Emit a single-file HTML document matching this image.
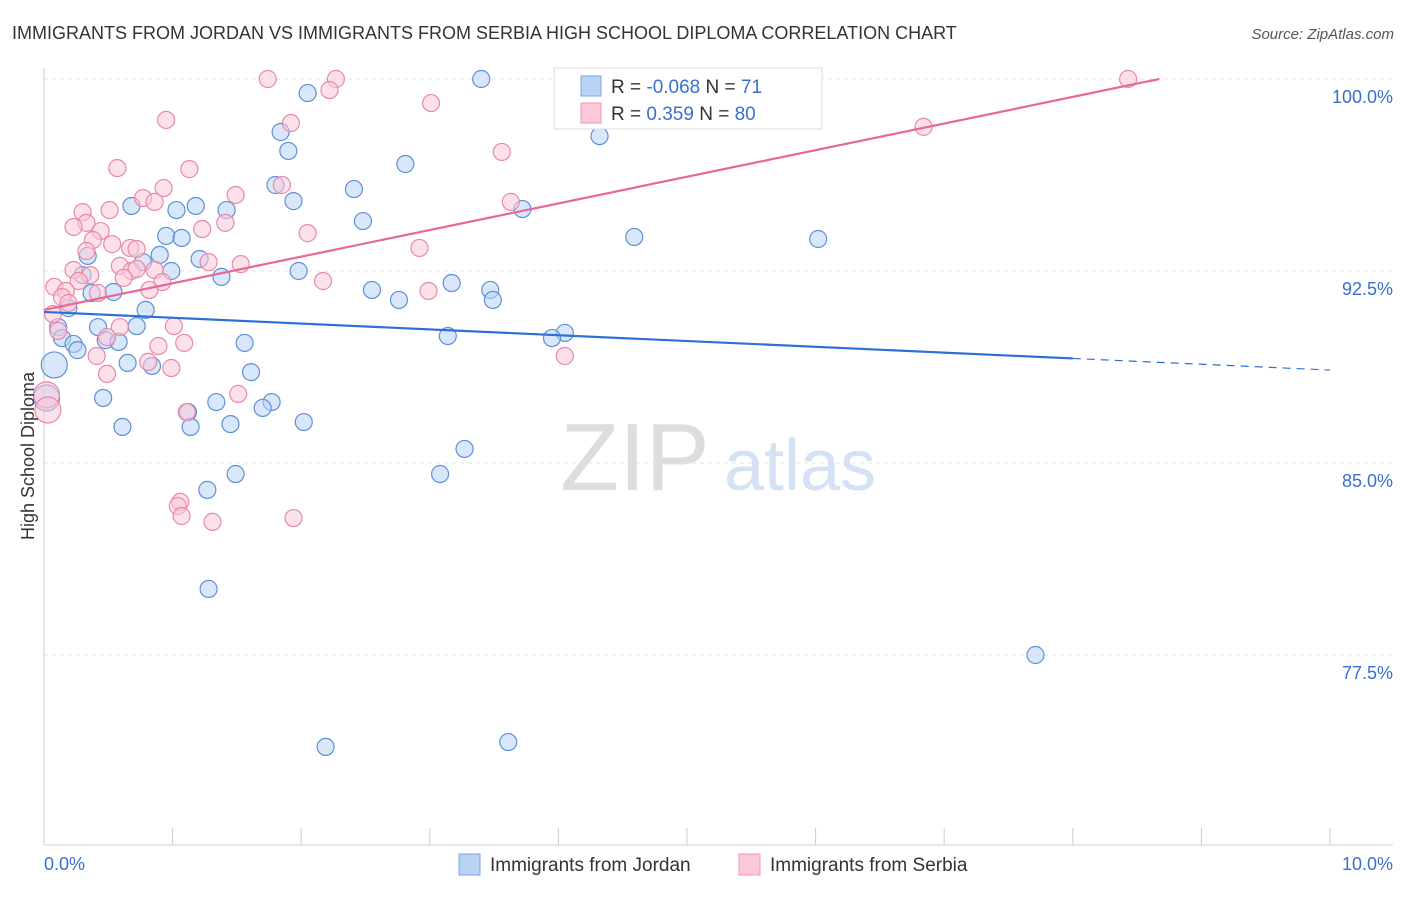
<!DOCTYPE html>
<html><head><meta charset="utf-8">
<style>
body{margin:0;background:#fff;font-family:"Liberation Sans",sans-serif;}
svg text{font-family:"Liberation Sans",sans-serif;}
</style></head>
<body>
<svg id="chart" width="1406" height="892" xmlns="http://www.w3.org/2000/svg">
<text x="12" y="39" font-size="18" fill="#333">IMMIGRANTS FROM JORDAN VS IMMIGRANTS FROM SERBIA HIGH SCHOOL DIPLOMA CORRELATION CHART</text>
<text x="1394" y="39" font-size="15" fill="#555" text-anchor="end" font-style="italic">Source: ZipAtlas.com</text>
<g>
<text x="635" y="490" font-size="96" fill="#ddd" font-family="Liberation Serif" text-anchor="middle">ZIP</text>
<text x="800" y="490" font-size="72" fill="#d4e2f4" text-anchor="middle">atlas</text>
</g>
<g id="grid"></g>
<g id="axes"></g>
<g id="marks"></g>
<text transform="translate(34,456) rotate(-90)" font-size="18" fill="#333" text-anchor="middle">High School Diploma</text>
<g>
<rect x="554" y="68" width="268" height="61" fill="#fff" stroke="#ddd"/>
<rect x="581" y="76" width="20" height="20" fill="#b9d3f5" stroke="#7aa6e0"/>
<rect x="581" y="103" width="20" height="20" fill="#fbc8d8" stroke="#ee99b5"/>
<text x="611" y="93" font-size="19" fill="#333">R = <tspan fill="#3a6fd0">-0.068</tspan>   N = <tspan fill="#3a6fd0"> 71</tspan></text>
<text x="611" y="120" font-size="19" fill="#333">R = <tspan fill="#3a6fd0">  0.359</tspan>   N = <tspan fill="#3a6fd0">80</tspan></text>
</g>
<g>
<rect x="459" y="854" width="21" height="21" fill="#b9d3f5" stroke="#7aa6e0"/>
<text x="490" y="871" font-size="19" fill="#333">Immigrants from Jordan</text>
<rect x="739" y="854" width="21" height="21" fill="#fbc8d8" stroke="#ee99b5"/>
<text x="770" y="871" font-size="19" fill="#333">Immigrants from Serbia</text>
</g>
</svg>
<script>
const yTicks=[100,92.5,85,77.5];
const yTickLabels=["100.0%","92.5%","85.0%","77.5%"];
const jordanX=[3.40,2.05,4.32,1.84,1.90,2.81,1.80,2.41,1.94,0.68,1.18,1.03,1.42,3.72,2.48,0.95,1.07,4.59,6.02,0.34,0.90,0.77,1.21,0.99,1.98,1.38,0.30,3.17,3.47,2.55,0.54,0.37,2.76,3.49,0.79,0.19,0.11,0.42,0.72,3.14,4.05,3.95,0.14,0.48,0.58,0.23,0.26,1.56,0.08,0.65,0.84,1.61,0.46,1.34,1.77,1.70,1.12,0.61,1.14,1.45,2.02,3.27,1.49,3.08,1.27,1.28,7.71,2.19,3.61,0.02];
const jordanY=[100.0,99.45,97.77,97.93,97.19,96.68,95.86,95.70,95.23,95.04,95.04,94.88,94.88,94.92,94.45,93.87,93.79,93.83,93.75,93.09,93.13,92.85,92.97,92.5,92.5,92.27,92.34,92.03,91.76,91.76,91.68,91.64,91.37,91.37,90.98,91.05,90.31,90.31,90.35,89.96,90.08,89.88,89.88,89.80,89.73,89.65,89.41,89.69,88.83,88.91,88.79,88.55,87.54,87.38,87.38,87.15,86.99,86.41,86.41,86.52,86.60,85.55,84.57,84.57,83.95,80.08,77.50,73.91,74.10,87.54];
const serbiaX=[8.43,1.74,2.27,2.22,3.01,0.95,1.92,3.56,0.57,1.13,1.85,0.93,1.49,0.77,3.63,0.86,6.84,0.30,0.51,0.33,0.23,1.41,1.23,0.44,2.05,0.38,0.53,0.67,0.72,2.92,0.33,1.28,1.53,0.59,0.86,0.23,0.68,0.36,0.72,0.62,0.27,0.92,2.17,0.82,0.08,0.17,0.42,2.99,0.14,0.19,0.07,0.59,1.01,0.11,0.49,1.09,0.89,0.41,4.05,0.81,0.99,0.49,1.51,0.02,0.03,1.11,1.06,1.04,1.07,1.31,1.94];
const serbiaY=[100.0,100.0,100.0,99.57,99.06,98.40,98.28,97.15,96.52,96.48,95.86,95.74,95.47,95.35,95.20,95.20,98.13,94.80,94.88,94.38,94.22,94.38,94.14,94.06,93.98,93.71,93.55,93.40,93.36,93.40,93.28,92.85,92.77,92.70,92.54,92.54,92.50,92.34,92.58,92.23,92.11,92.07,92.11,91.76,91.88,91.72,91.64,91.72,91.48,91.25,90.82,90.31,90.35,90.16,89.92,89.69,89.57,89.18,89.18,88.95,88.71,88.48,87.70,87.66,87.07,86.99,83.48,83.32,82.93,82.70,82.85];
const jordanBig=[48,69];
const serbiaBig=[63,64];
const jordanTrend=[90.90,88.63], jordanSolidEnd=8.0;
const serbiaTrend=[90.98,101.38];

const NS="http://www.w3.org/2000/svg";
const X=v=>44+v*128.6, Y=v=>79+(100-v)*25.6;
function mk(tag,attrs,parent){const e=document.createElementNS(NS,tag);for(const k in attrs)e.setAttribute(k,attrs[k]);parent.appendChild(e);return e;}
const grid=document.getElementById('grid'),axes=document.getElementById('axes'),marks=document.getElementById('marks');
yTicks.forEach((t,i)=>{
 const l=mk('line',{x1:44,x2:1393,y1:Y(t),y2:Y(t),stroke:'#e3e3e3','stroke-dasharray':'4,4'},grid);
 
 
 const tx=mk('text',{x:1393,y:Y(t)+24,'font-size':18,fill:'#3a6fd0','text-anchor':'end'},axes);
 tx.textContent=yTickLabels[i];
 
 
});
const ya=mk('line',{x1:44,x2:44,y1:68,y2:845,stroke:'#ccc'},axes);


const xa=mk('line',{x1:44,x2:1393,y1:845,y2:845,stroke:'#ccc'},axes);


for(let i=0;i<=10;i++){
 const t=mk('line',{x1:X(i),x2:X(i),y1:828,y2:845,stroke:'#ccc'},axes);
 
 
}
[[0,"0.0%","start",44],[10,"10.0%","end",1393]].forEach(a=>{
 const t=mk('text',{x:a[3],y:870,'font-size':18,fill:'#3a6fd0','text-anchor':a[2]},axes);
 t.textContent=a[1];
 
 
});
function pts(xs,ys,big,fill,stroke,name){
 xs.forEach((x,i)=>{
  const c=mk('circle',{cx:X(x),cy:Y(ys[i]),r:big.includes(i)?13:8.5,fill:fill,'fill-opacity':0.55,stroke:stroke,'stroke-width':1.2},marks);
  
  
 });
}
pts(jordanX,jordanY,jordanBig,'#b9d3f5','#5f8fd6','jordan-point');
pts(serbiaX,serbiaY,serbiaBig,'#fbc8d8','#e889a8','serbia-point');
const jy=x=>jordanTrend[0]+(jordanTrend[1]-jordanTrend[0])*x/10;
let l1=mk('line',{x1:X(0),y1:Y(jy(0)),x2:X(jordanSolidEnd),y2:Y(jy(jordanSolidEnd)),stroke:'#2c6fd6','stroke-width':2.2},marks);


let l2=mk('line',{x1:X(jordanSolidEnd),y1:Y(jy(jordanSolidEnd)),x2:X(10),y2:Y(jy(10)),stroke:'#2c6fd6','stroke-width':1.2,'stroke-dasharray':'8,6'},marks);


const sEnd=(100-serbiaTrend[0])/((serbiaTrend[1]-serbiaTrend[0])/10);
let l3=mk('line',{x1:X(0),y1:Y(serbiaTrend[0]),x2:X(Math.min(10,sEnd)),y2:Y(Math.min(100,serbiaTrend[1])),stroke:'#e8679a','stroke-width':2.2},marks);


</script>
</body></html>
